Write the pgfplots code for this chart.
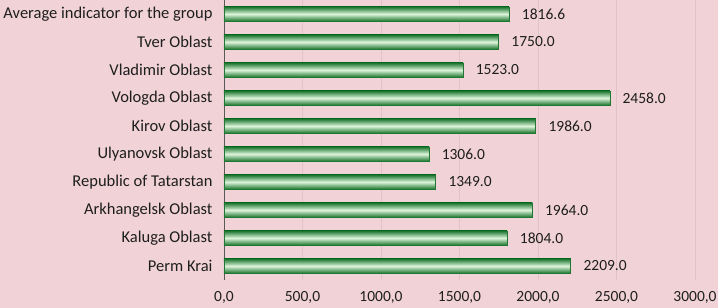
\documentclass[border=0pt]{standalone}
\usepackage{pgfplots}
\pgfplotsset{compat=1.18}
\usepackage{fontspec}
\setmainfont{Carlito}
\definecolor{bg}{RGB}{241,211,215}
\definecolor{gridc}{RGB}{222,196,200}
\definecolor{dkg}{RGB}{30,120,50}
\definecolor{ltg}{RGB}{222,244,218}
\definecolor{txt}{RGB}{30,30,30}
\pgfplotsset{gbar/.style={xbar, bar width=14pt, bar shift=0pt, draw=dkg, line width=0.8pt,
  top color=dkg, bottom color=dkg, middle color=ltg,
  nodes near coords,
  nodes near coords style={font=\fontsize{15.5}{17}\selectfont, text=txt, anchor=west, xshift=9pt,
    /pgf/number format/fixed, /pgf/number format/fixed zerofill, /pgf/number format/precision=1, /pgf/number format/1000 sep={}},
  nodes near coords align={horizontal}}}
\begin{document}
\begin{tikzpicture}[x=1pt,y=1pt]
\useasboundingbox (0,0) rectangle (718,308);
\fill[bg] (0,0) rectangle (718,308);
\begin{axis}[
  at={(224pt,28pt)}, anchor=south west,
  scale only axis, width=471pt, height=280pt,
  xmin=0, xmax=3000,
  ymin=-0.5, ymax=9.5,
  xtick={0,500,...,3000},
  ytick={0,...,9},
  yticklabels={Perm Krai,Kaluga Oblast,Arkhangelsk Oblast,Republic of Tatarstan,Ulyanovsk Oblast,Kirov Oblast,Vologda Oblast,Vladimir Oblast,Tver Oblast,Average indicator for the group},
  xticklabel style={/pgf/number format/fixed,/pgf/number format/fixed zerofill,/pgf/number format/precision=1,/pgf/number format/use comma,/pgf/number format/1000 sep={}, yshift=-8pt, font=\fontsize{15.5}{17}\selectfont},
  /pgf/number format/assume math mode=true,
  xmajorgrids, major grid style={gridc, line width=0.8pt},
  axis x line*=bottom, axis y line*=left,
  x axis line style={draw=none},
  y axis line style={draw=gray!70!black, line width=0.8pt},
  major tick length=0pt,
  ytick style={draw=none},
  xtick style={draw=none},
  tick label style={text=txt},
  yticklabel style={xshift=-8pt, font=\fontsize{16.5}{18}\selectfont},
  clip=false,
]
\addplot[gbar] coordinates {(2209,0)};
\addplot[gbar] coordinates {(1804,1)};
\addplot[gbar] coordinates {(1964,2)};
\addplot[gbar] coordinates {(1349,3)};
\addplot[gbar] coordinates {(1306,4)};
\addplot[gbar] coordinates {(1986,5)};
\addplot[gbar] coordinates {(2458,6)};
\addplot[gbar] coordinates {(1523,7)};
\addplot[gbar] coordinates {(1750,8)};
\addplot[gbar] coordinates {(1816.6,9)};
\end{axis}
\end{tikzpicture}
\end{document}
